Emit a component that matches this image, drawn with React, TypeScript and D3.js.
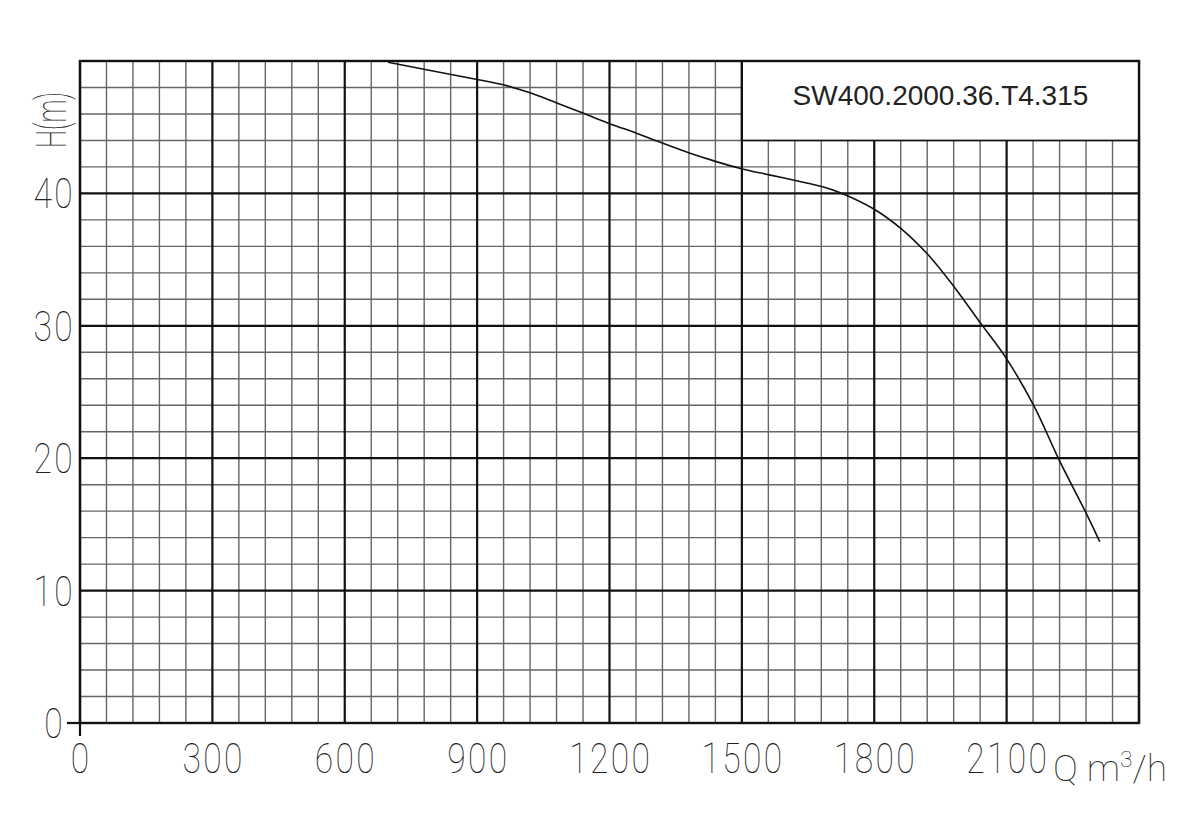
import React from "react";
import * as d3 from "d3";

const flowQ = [698, 900, 959, 1020, 1079, 1141, 1202, 1261, 1320, 1381, 1442, 1501, 1562, 1624, 1683, 1723, 1800, 1862, 1921, 1982, 2041, 2100, 2161, 2220, 2281, 2311];
const headH = [49.9, 48.6, 48.2, 47.6, 46.85, 46.05, 45.25, 44.55, 43.8, 43.05, 42.4, 41.85, 41.4, 40.95, 40.5, 40.05, 38.8, 37.3, 35.4, 32.9, 30.2, 27.5, 24.0, 19.8, 15.8, 13.7];
const xTicks = [0, 300, 600, 900, 1200, 1500, 1800, 2100];
const yTicks = [0, 10, 20, 30, 40];
const modelName = "SW400.2000.36.T4.315";

const W = 1200;
const H = 832;
const x = d3.scaleLinear().domain([0, 2400]).range([80, 1139]);
const y = d3.scaleLinear().domain([0, 50]).range([723, 61]);

const labelFont = "Roboto, 'DejaVu Sans', sans-serif";

export default function App() {
  const pts = flowQ.map((q, i) => [q, headH[i]] as [number, number]);
  const line = d3
    .line<[number, number]>()
    .x((d) => x(d[0]))
    .y((d) => y(d[1]))
    .curve(d3.curveCatmullRom.alpha(0.5));

  const minorX = d3.range(0, 2401, 60).filter((v) => v % 300 !== 0);
  const majorX = d3.range(0, 2401, 300);
  const minorY = d3.range(0, 51, 2).filter((v) => v % 10 !== 0);
  const majorY = d3.range(0, 51, 10);

  const [x0, x1] = x.range();
  const [y0, y1] = y.range();

  return (
    <svg
      width={W}
      height={H}
      style={{ position: "absolute", left: 0, top: 0, display: "block", background: "#fff" }}
    >
      <rect x={0} y={0} width={W} height={H} fill="#fff" />
      {/* minor grid */}
      {minorX.map((v) => (
        <line key={"mx" + v} x1={x(v)} x2={x(v)} y1={y1} y2={y0} stroke="#666" strokeWidth={1.4} />
      ))}
      {minorY.map((v) => (
        <line key={"my" + v} x1={x0} x2={x1} y1={y(v)} y2={y(v)} stroke="#666" strokeWidth={1.4} />
      ))}
      {/* major grid */}
      {majorX.map((v) => (
        <line key={"Mx" + v} x1={x(v)} x2={x(v)} y1={y1} y2={y0} stroke="#111" strokeWidth={2.2} />
      ))}
      {majorY.map((v) => (
        <line key={"My" + v} x1={x0} x2={x1} y1={y(v)} y2={y(v)} stroke="#111" strokeWidth={2.2} />
      ))}
      {/* title box */}
      <rect
        x={x(1500)}
        y={y(50)}
        width={x(2400) - x(1500)}
        height={y(44) - y(50)}
        fill="#fff"
        stroke="#111"
        strokeWidth={1.6}
      />
      <line x1={x(1500)} x2={x(1500)} y1={y(50)} y2={y(44)} stroke="#111" strokeWidth={2.2} />
      <text
        x={(x(1500) + x(2400)) / 2}
        y={y(46.7)}
        textAnchor="middle"
        fontFamily="Arial, 'Liberation Sans', sans-serif"
        fontSize={28}
        fill="#222"
      >
        {modelName}
      </text>
      {/* outer frame */}
      <rect x={x0} y={y1} width={x1 - x0} height={y0 - y1} fill="none" stroke="#111" strokeWidth={2.4} />
      {/* axis extension ticks */}
      <line x1={67} x2={x0} y1={y(0)} y2={y(0)} stroke="#111" strokeWidth={2.2} />
      <line x1={x0} x2={x0} y1={y(0)} y2={736} stroke="#111" strokeWidth={2.2} />
      {/* curve */}
      <path d={line(pts) || ""} fill="none" stroke="#111" strokeWidth={1.6} />
      {/* x tick labels */}
      {xTicks.map((v) => (
        <text
          key={"xt" + v}
          transform={`translate(${x(v) + 1.2},773) scale(0.8,1)`}
          textAnchor="middle"
          fontFamily={labelFont}
          fontWeight={100}
          fontSize={42}
          letterSpacing={3}
          fill="#222"
        >
          {String(v)}
        </text>
      ))}
      {/* y tick labels */}
      {yTicks.map((v) => (
        <text
          key={"yt" + v}
          transform={`translate(${v === 0 ? 65 : 75},${y(v) + 15}) scale(0.8,1)`}
          textAnchor="end"
          fontFamily={labelFont}
          fontWeight={100}
          fontSize={42}
          letterSpacing={3}
          fill="#222"
        >
          {String(v)}
        </text>
      ))}
      {/* axis titles */}
      <text
        transform="translate(66,120) rotate(-90)"
        textAnchor="middle"
        fontFamily={labelFont}
        fontWeight={100}
        fontSize={42}
        fill="#222"
        textLength={56}
        lengthAdjust="spacingAndGlyphs"
      >
        H(m)
      </text>
      <text
        x={1053}
        y={781}
        fontFamily={labelFont}
        fontWeight={100}
        fontSize={36}
        fill="#222"
        textLength={114}
        lengthAdjust="spacingAndGlyphs"
      >
        Q m<tspan fontSize={22} dy={-14}>3</tspan>
        <tspan dy={14}>/h</tspan>
      </text>
    </svg>
  );
}
